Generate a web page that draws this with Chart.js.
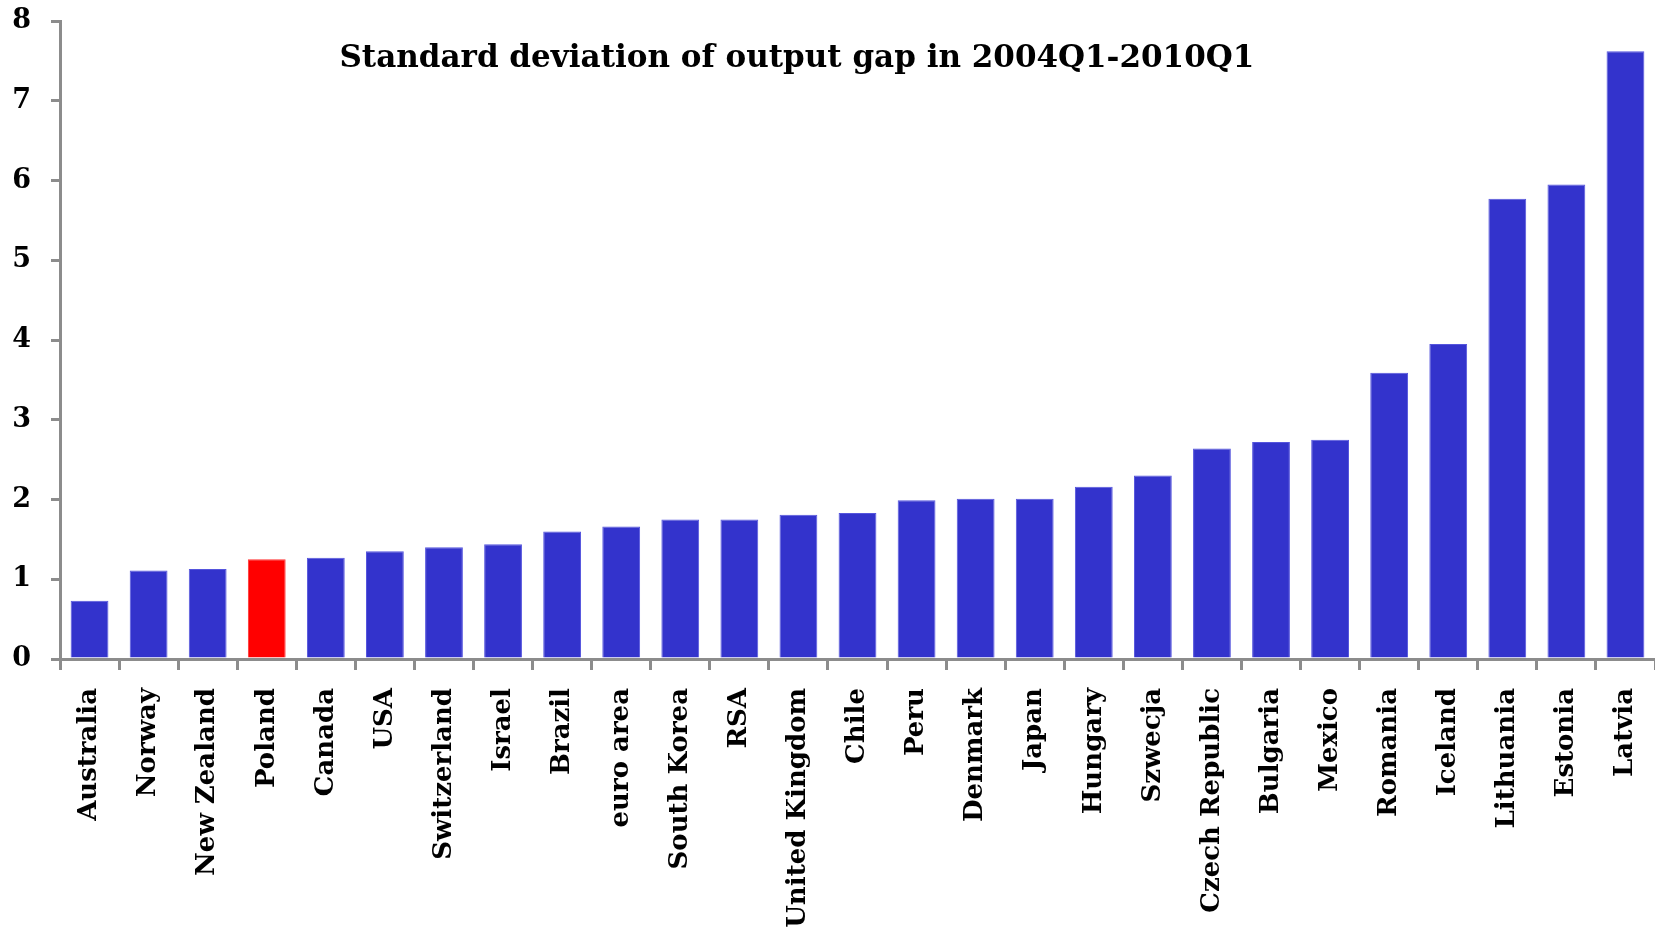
<!DOCTYPE html>
<html>
<head>
<meta charset="utf-8">
<title>Standard deviation of output gap in 2004Q1-2010Q1</title>
<script src="https://cdn.jsdelivr.net/npm/chart.js@4.4.1/dist/chart.umd.min.js"></script>
<style>
  html, body { margin: 0; padding: 0; background: #fff; }
  #wrap { position: relative; width: 1655px; height: 935px; }
</style>
</head>
<body>
<div id="wrap"><canvas id="chart"></canvas></div>
<script>
'use strict';

const TITLE = 'Standard deviation of output gap in 2004Q1-2010Q1';

const countries = [
  'Australia', 'Norway', 'New Zealand', 'Poland', 'Canada', 'USA', 'Switzerland',
  'Israel', 'Brazil', 'euro area', 'South Korea', 'RSA', 'United Kingdom', 'Chile',
  'Peru', 'Denmark', 'Japan', 'Hungary', 'Szwecja', 'Czech Republic', 'Bulgaria',
  'Mexico', 'Romania', 'Iceland', 'Lithuania', 'Estonia', 'Latvia',
];

const stdDev = [
  0.73, 1.11, 1.13, 1.25, 1.27, 1.35, 1.40,
  1.44, 1.60, 1.66, 1.75, 1.75, 1.81, 1.83,
  1.99, 2.01, 2.01, 2.16, 2.30, 2.64, 2.72,
  2.75, 3.59, 3.95, 5.77, 5.95, 7.62,
];

const yTicks = [0, 1, 2, 3, 4, 5, 6, 7, 8];

const HIGHLIGHT = 'Poland';
const BLUE = '#3333cc';
const RED = '#ff0000';
const AXIS_GREY = '#8c8c8c';
const FONT = '"DejaVu Serif", "Liberation Serif", serif';

// title sits inside the plot area, a bit left of centre
const titlePlugin = {
  id: 'innerTitle',
  afterDraw(chart) {
    const { ctx, chartArea, scales } = chart;
    const x = chartArea.left + chartArea.width * 0.462;
    const y = scales.y.getPixelForValue(7.53);
    ctx.save();
    ctx.font = `bold 31px ${FONT}`;
    ctx.fillStyle = '#000';
    ctx.textAlign = 'center';
    ctx.textBaseline = 'middle';
    ctx.fillText(TITLE, x, y);
    ctx.restore();
  },
};

new Chart(document.getElementById('chart'), {
  type: 'bar',
  data: {
    labels: countries,
    datasets: [{
      data: stdDev,
      backgroundColor: countries.map(c => (c === HIGHLIGHT ? RED : BLUE)),
      borderColor: countries.map(c => (c === HIGHLIGHT ? '#ff3333' : '#5555dd')),
      borderWidth: 1,
      categoryPercentage: 1,
      barPercentage: 0.64,
    }],
  },
  options: {
    responsive: true,
    maintainAspectRatio: false,
    animation: false,
    layout: { padding: { top: 21, right: 0, left: 0, bottom: 0 } },
    plugins: {
      legend: { display: false },
      title: { display: false },
      tooltip: { enabled: false },
    },
    scales: {
      x: {
        grid: {
          display: true,
          drawOnChartArea: false,
          drawTicks: true,
          tickLength: 11,
          color: AXIS_GREY,
          lineWidth: 3,
        },
        border: { display: true, color: AXIS_GREY, width: 3 },
        ticks: {
          minRotation: 90,
          maxRotation: 90,
          autoSkip: false,
          padding: 18,
          color: '#000',
          font: { family: FONT, size: 26, weight: 'bold' },
        },
        afterFit(scale) {
          scale.height = 276;
          scale.paddingLeft = 0;
          scale.paddingRight = 0;
        },
      },
      y: {
        min: 0,
        max: 8,
        afterBuildTicks(scale) { scale.ticks = yTicks.map(v => ({ value: v })); },
        grid: {
          display: true,
          drawOnChartArea: false,
          drawTicks: true,
          tickLength: 9,
          color: AXIS_GREY,
          lineWidth: 3,
        },
        border: { display: true, color: AXIS_GREY, width: 3 },
        ticks: {
          padding: 20,
          color: '#000',
          font: { family: FONT, size: 27, weight: 'bold' },
        },
        afterFit(scale) {
          scale.width = 60;
          scale.paddingTop = 0;
          scale.paddingBottom = 0;
        },
      },
    },
  },
  plugins: [titlePlugin],
});
</script>
</body>
</html>
